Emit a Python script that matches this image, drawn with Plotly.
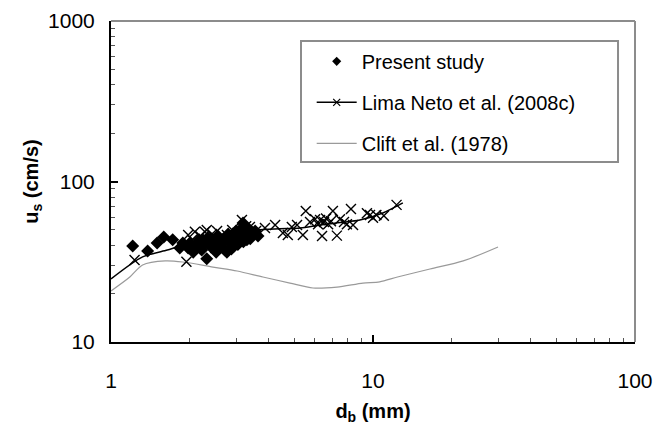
import plotly.graph_objects as go

# ---- data ----
present_d = [1.21, 1.38, 1.50, 1.59, 1.72, 1.83, 1.88, 1.97, 2.00, 2.06, 2.11, 2.17, 2.22, 2.28,
             2.32, 2.34, 2.41, 2.47, 2.52, 2.56, 2.61, 2.66, 2.72, 2.77, 2.80, 2.85, 2.90, 2.95,
             3.00, 3.06, 3.11, 3.16, 3.19, 3.25, 3.30, 3.36, 3.45, 3.55, 3.64, 2.25, 2.43, 2.60,
             2.70, 2.88, 3.05, 3.20, 3.40]
present_u = [39.7, 36.9, 41.4, 45.1, 43.3, 38.5, 41.4, 38.5, 41.4, 36.3, 39.7, 43.3, 37.4, 40.8,
             33.0, 44.6, 39.1, 42.6, 36.3, 45.8, 40.2, 43.3, 37.4, 36.3, 47.1, 41.4, 44.6, 39.7,
             49.2, 43.3, 45.8, 51.3, 55.1, 47.7, 43.3, 50.6, 46.4, 49.2, 45.8, 43.0, 44.0, 38.8,
             42.0, 38.0, 40.5, 42.2, 44.0]

lima_d = [1.23, 1.94, 1.97, 2.04, 2.09, 2.19, 2.28, 2.32, 2.43, 2.54, 2.66, 2.77, 2.90, 3.03,
          3.16, 3.28, 3.39, 3.58, 3.87, 4.23, 4.53, 4.73, 4.90, 5.13, 5.40, 5.54, 5.75, 6.01,
          6.17, 6.28, 6.39, 6.50, 6.62, 6.74, 6.91, 7.03, 7.28, 7.48, 7.75, 7.95, 8.24, 8.39,
          9.48, 9.74, 10.0, 10.3, 11.0, 12.3]
lima_u = [32.4, 31.6, 46.4, 43.3, 48.6, 45.8, 48.6, 49.9, 47.1, 49.2, 45.8, 46.4, 49.9, 47.7,
          57.5, 52.7, 52.0, 49.2, 51.3, 53.5, 47.7, 46.4, 52.0, 53.5, 46.4, 65.5, 56.0, 58.2,
          54.2, 57.5, 45.7, 56.0, 58.8, 54.2, 56.6, 65.5, 46.0, 58.2, 56.0, 54.2, 67.4, 53.5,
          63.4, 61.8, 59.4, 61.8, 61.1, 71.5]

lima_fit_d = [1.0, 1.32, 1.64, 1.79, 2.0, 2.45, 3.03, 3.61, 4.4, 5.27, 6.28, 7.5, 8.91, 10.9, 13.0]
lima_fit_u = [24.7, 33.9, 37.4, 39.1, 41.0, 43.3, 46.4, 49.9, 50.8, 51.3, 53.6, 55.5, 57.5, 63.6, 73.5]

clift_d = [1.0, 1.18, 1.32, 1.61, 1.88, 2.45, 3.03, 3.80, 4.82, 5.90, 7.29, 9.16, 10.6, 12.4, 16.5, 22.1, 30.0]
clift_u = [20.8, 25.4, 30.2, 32.0, 31.5, 29.3, 27.7, 25.4, 23.3, 21.7, 22.0, 23.3, 23.7, 25.4, 28.5, 32.0, 39.1]

x_ticks = [1, 10, 100]
x_ticktext = ["1", "10", "100"]
y_ticks = [10, 100, 1000]
y_ticktext = ["10", "100", "1000"]

FONT = "Liberation Sans, Arial, sans-serif"

fig = go.Figure()

# Clift curve
fig.add_trace(go.Scatter(x=clift_d, y=clift_u, mode="lines", name="Clift et al. (1978)",
                         line=dict(color="#9a9a9a", width=1.2, shape="spline", smoothing=0.8),
                         legendgroup="c", legendrank=3))
# Lima Neto fit line (no legend)
fig.add_trace(go.Scatter(x=lima_fit_d, y=lima_fit_u, mode="lines", showlegend=False,
                         line=dict(color="black", width=1.5, shape="spline", smoothing=0.8),
                         legendgroup="b"))
# Lima Neto data (no legend)
fig.add_trace(go.Scatter(x=lima_d, y=lima_u, mode="markers", showlegend=False, legendgroup="b",
                         marker=dict(symbol="x-thin", size=10, line=dict(color="black", width=1.4))))
# Present study
fig.add_trace(go.Scatter(x=present_d, y=present_u, mode="markers", showlegend=False,
                         legendgroup="a",
                         marker=dict(symbol="diamond", size=10, color="black")))
# legend entries
fig.add_trace(go.Scatter(x=[None], y=[None], mode="markers", name="Present study",
                         legendgroup="a", legendrank=1,
                         marker=dict(symbol="diamond", size=7, color="black")))
fig.add_trace(go.Scatter(x=[None], y=[None], mode="lines+markers", name="Lima Neto et al. (2008c)",
                         legendgroup="b", legendrank=2,
                         line=dict(color="black", width=1.5),
                         marker=dict(symbol="x-thin", size=7, line=dict(color="black", width=1.2))))

minor_x = [k * 10 ** e for e in range(0, 2) for k in range(2, 10)]
minor_y = [k * 10 ** e for e in range(1, 3) for k in range(2, 10)]

fig.update_xaxes(type="log", range=[0, 2], tickvals=x_ticks, ticktext=x_ticktext,
                 ticks="inside", ticklen=7, tickwidth=1.5, tickcolor="black",
                 showline=True, linecolor="black", linewidth=2, showgrid=False, zeroline=False,
                 ticklabelstandoff=19, automargin=False,
                 minor=dict(tickvals=minor_x, ticks="inside", ticklen=4, tickwidth=1, tickcolor="#555"),
                 title=dict(text="<b>d<sub>b</sub> (mm)</b>", font=dict(size=20, color="black"), standoff=13),
                 tickfont=dict(size=21, color="black"))
fig.update_yaxes(type="log", range=[1, 3], tickvals=y_ticks, ticktext=y_ticktext,
                 ticks="inside", ticklen=7, tickwidth=1.5, tickcolor="black",
                 showline=True, linecolor="black", linewidth=2, showgrid=False, zeroline=False,
                 ticklabelstandoff=10, automargin=False,
                 minor=dict(tickvals=minor_y, ticks="inside", ticklen=4, tickwidth=1, tickcolor="#555"),
                 title=dict(text="<b>u<sub>s</sub> (cm/s)</b>", font=dict(size=20, color="black"), standoff=4),
                 tickfont=dict(size=21, color="black"))

# top / right border of plot area and legend frame
fig.add_shape(type="line", xref="paper", yref="paper", x0=0, x1=1, y0=1, y1=1,
              line=dict(color="#8c8c8c", width=2))
fig.add_shape(type="line", xref="paper", yref="paper", x0=1, x1=1, y0=0, y1=1,
              line=dict(color="#8c8c8c", width=2))
fig.add_shape(type="rect", xref="paper", yref="paper", x0=0.3626, x1=0.9676, y0=0.5607, y1=0.9377,
              line=dict(color="#8c8c8c", width=2))

# page has an 8px body margin, so the figure is sized/offset to land the plot area
fig.update_layout(
    width=662, height=423,
    margin=dict(l=103, r=35, t=13, b=89),
    paper_bgcolor="white", plot_bgcolor="white",
    font=dict(family=FONT, color="black"),
    showlegend=True,
    legend=dict(x=0.383, y=0.935, xanchor="left", yanchor="top", bgcolor="rgba(0,0,0,0)",
                borderwidth=0, font=dict(size=20, color="black"), tracegroupgap=12,
                traceorder="grouped", itemwidth=40),
)

fig.write_html("out.html")
